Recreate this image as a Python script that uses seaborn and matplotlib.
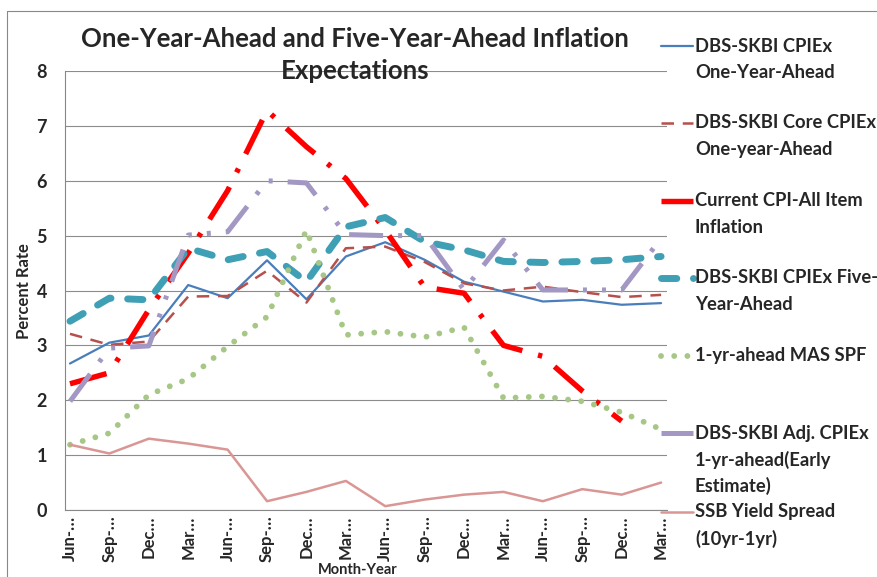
import numpy as np
import pandas as pd
import seaborn as sns
import matplotlib
matplotlib.use("Agg")
import matplotlib.pyplot as plt
from matplotlib.lines import Line2D

# ---------------- data ----------------
periods = ["Jun-…", "Sep-…", "Dec…", "Mar…"] * 4
cpiex_1y = [2.67, 3.05, 3.18, 4.10, 3.86, 4.55, 3.84, 4.62, 4.88, 4.56, 4.16, 3.98, 3.80, 3.83, 3.74, 3.77]
core_1y = [3.21, 3.01, 3.07, 3.89, 3.90, 4.36, 3.78, 4.77, 4.80, 4.52, 4.13, 4.00, 4.07, 3.97, 3.88, 3.92]
cpi_all = [2.30, 2.50, 3.65, 4.68, 5.82, 7.28, 6.62, 6.04, 5.10, 4.06, 3.95, 3.00, 2.80, 2.17, 1.62, np.nan]
cpiex_5y = [3.44, 3.86, 3.83, 4.77, 4.56, 4.71, 4.16, 5.16, 5.33, 4.89, 4.74, 4.53, 4.51, 4.53, 4.56, 4.62]
mas_spf = [1.19, 1.40, 2.10, 2.39, 2.98, 3.52, 5.10, 3.19, 3.25, 3.15, 3.33, 2.04, 2.07, 1.98, 1.78, 1.47]
adj_1y = [1.98, 2.95, 2.99, 5.01, 5.07, 6.00, 5.96, 5.02, 5.00, 5.00, 4.01, 4.92, 4.01, 4.01, 4.01, 4.95]
ssb_spread = [1.19, 1.03, 1.30, 1.21, 1.10, 0.16, 0.33, 0.53, 0.07, 0.19, 0.28, 0.33, 0.16, 0.38, 0.28, 0.50]

labels = [
    ["DBS-SKBI CPIEx", "One-Year-Ahead"],
    ["DBS-SKBI Core CPIEx", "One-year-Ahead"],
    ["Current CPI-All Item", "Inflation"],
    ["DBS-SKBI CPIEx Five-", "Year-Ahead"],
    ["1-yr-ahead MAS SPF"],
    ["DBS-SKBI Adj. CPIEx", "1-yr-ahead(Early", "Estimate)"],
    ["SSB Yield Spread", "(10yr-1yr)"],
]
series = [cpiex_1y, core_1y, cpi_all, cpiex_5y, mas_spf, adj_1y, ssb_spread]

# styles (linewidth in pt at dpi 100)
styles = [
    dict(color="#4A7EBB", linewidth=1.6, linestyle="-"),
    dict(color="#B5504D", linewidth=1.8, linestyle=(0, (5, 3.5))),
    dict(color="#FF0000", linewidth=3.9, linestyle=(0, (7, 3, 0.8, 3))),
    dict(color="#3FA0B5", linewidth=5.0, linestyle=(0, (2.2, 2.4)), dash_capstyle="round"),
    dict(color="#A6C785", linewidth=4.2, linestyle=(0, (0.01, 2.25)), dash_capstyle="round"),
    dict(color="#A398C4", linewidth=3.6, linestyle=(0, (6.8, 3, 0.8, 3, 0.8, 3))),
    dict(color="#D99694", linewidth=1.8, linestyle="-"),
]

W, H = 878, 577
sns.set_style("white")
plt.rcParams['font.family'] = ['Lato', 'DejaVu Sans']

fig = plt.figure(figsize=(W / 100, H / 100), dpi=100)
ax = fig.add_axes([65 / W, 1 - 510 / H, (667 - 65) / W, (510 - 71) / H])

x = np.arange(len(periods))
for vals, st in zip(series, styles):
    df = pd.DataFrame({"x": x, "v": vals}).dropna()
    sns.lineplot(data=df, x="x", y="v", ax=ax, errorbar=None, **st)

ax.set_ylim(0, 8)
ax.set_xlim(-0.127, 15.15)
ax.set_yticks(range(0, 9))
ax.set_yticklabels([str(i) for i in range(0, 9)], fontsize=13, fontweight="bold")
ax.set_xticks(x)
ax.set_xticklabels(periods, rotation=90, fontsize=12, fontweight="bold", va="top", ha="center")
ax.set_xticks(x - 0.127, minor=True)
ax.tick_params(axis="x", which="major", length=0, pad=4)
ax.tick_params(axis="x", which="minor", length=5, color="#888888", width=0.8, direction="out")
ax.tick_params(axis="y", length=5, color="#888888", width=0.8, direction="out", pad=8)
ax.set_xlabel("")
ax.set_ylabel("")
ax.grid(axis="y", color="#8C8C8C", linewidth=0.8)
ax.grid(axis="x", visible=False)
ax.set_axisbelow(True)
for s in ["top", "right"]:
    ax.spines[s].set_visible(False)
for s in ["left", "bottom"]:
    ax.spines[s].set_color("#888888")
    ax.spines[s].set_linewidth(0.8)

# title and axis titles
fig.text(355 / W, 1 - 55 / H, "One-Year-Ahead and Five-Year-Ahead Inflation\nExpectations",
         ha="center", va="center", fontsize=18.5, fontweight="bold", linespacing=1.4)
fig.text(24 / W, 1 - 291 / H, "Percent Rate", rotation=90, ha="center", va="center",
         fontsize=12, fontweight="bold")
fig.text(358 / W, 1 - 569.5 / H, "Month-Year", ha="center", va="center",
         fontsize=10.5, fontweight="bold")

# legend (Excel-like: fixed slots, handle on first text line)
first_y = [46, 123, 201, 278, 356, 433, 512]
for lab, st, y0 in zip(labels, styles, first_y):
    fig.add_artist(Line2D([661 / W, 693 / W], [1 - y0 / H, 1 - y0 / H],
                          transform=fig.transFigure, **st))
    for k, line in enumerate(lab):
        fig.text(695 / W, 1 - (y0 + 26.5 * k) / H, line, ha="left", va="center",
                 fontsize=13.2, fontweight="bold")

# chart area border
fig.add_artist(Line2D([7 / W, 7 / W, 1], [0, 1 - 11 / H, 1 - 11 / H],
                      transform=fig.transFigure, color="#888888", linewidth=0.8))

fig.savefig("out.png", dpi=100)
